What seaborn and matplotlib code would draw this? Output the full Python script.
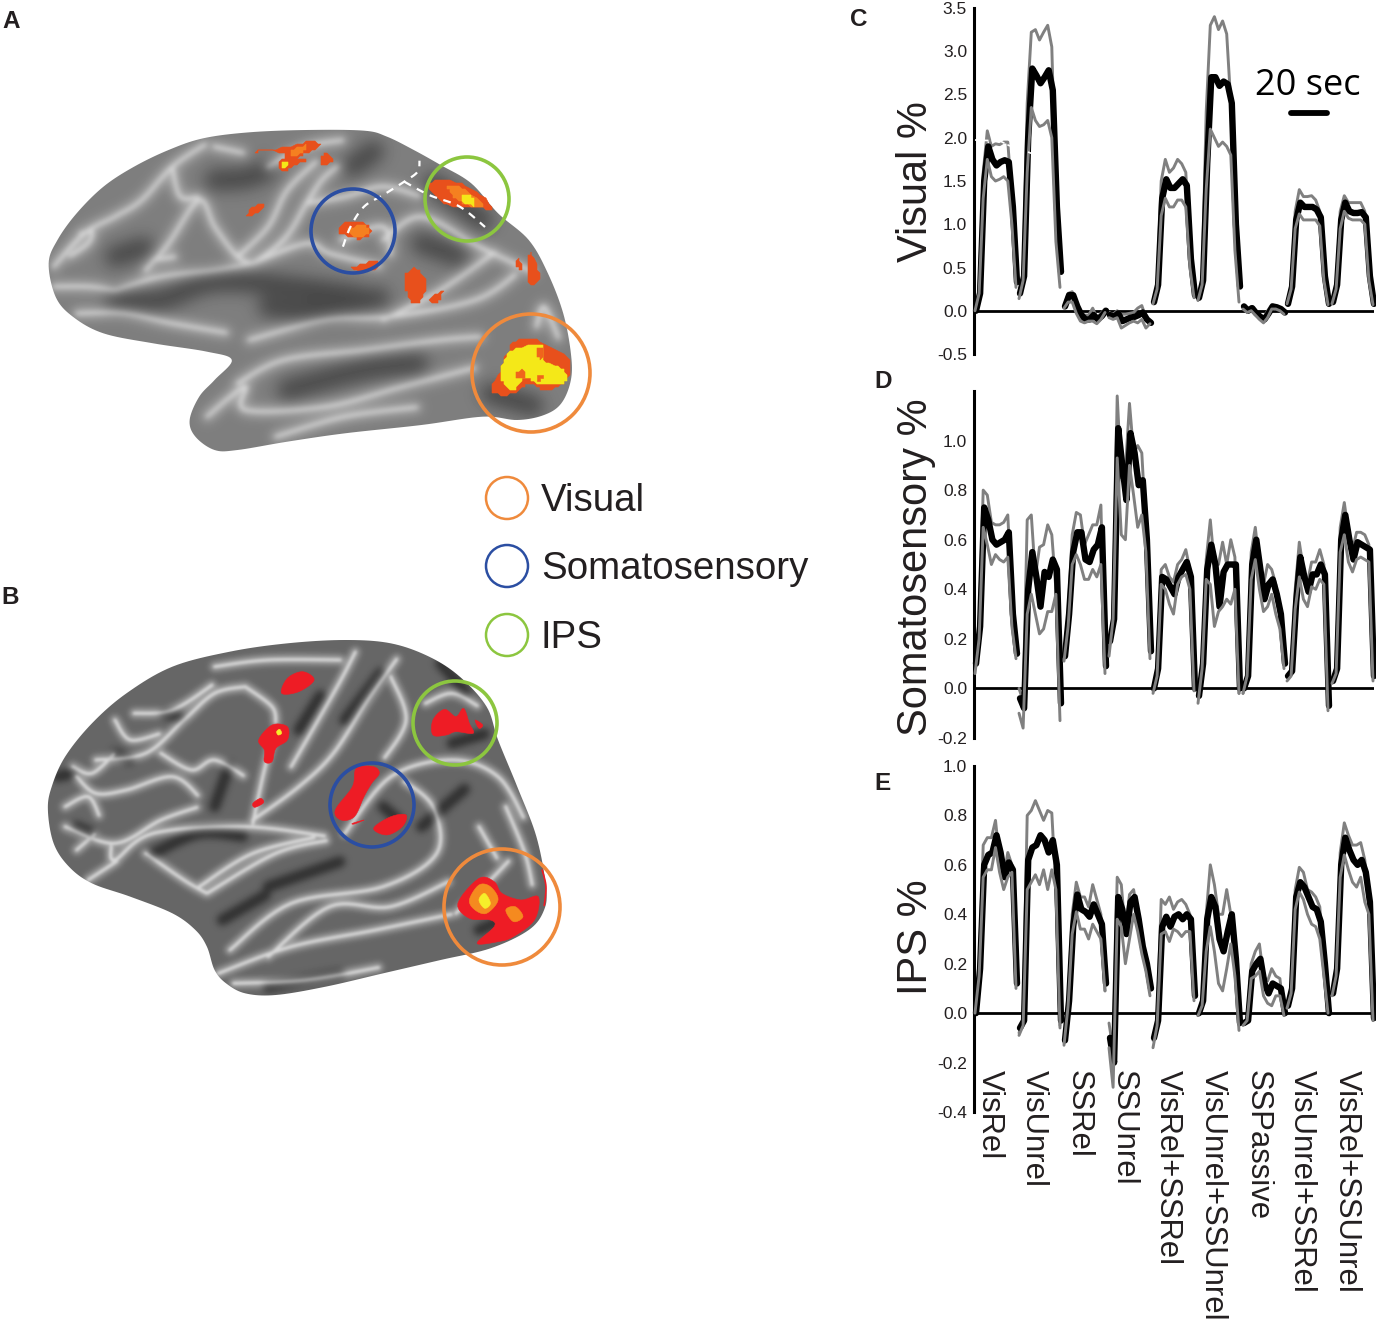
import numpy as np
import pandas as pd
import matplotlib
matplotlib.use('Agg')
import matplotlib.pyplot as plt
import seaborn as sns
from matplotlib.patches import Circle, Polygon

# ── Data ──────────────────────────────────────────────────────────────────────

conditions = ['VisRel', 'VisUnrel', 'SSRel', 'SSUnrel', 'VisRel+SSRel',
              'VisUnrel+SSUnrel', 'SSPassive', 'VisUnrel+SSRel', 'VisRel+SSUnrel']
block_start = [0.5, 22.5, 45, 67.5, 89.5, 112, 134.5, 156.5, 179]
sample_step = 2.05
mean_lag = 0.5

visual_mean = [
    [0.0, 0.2, 1.5, 1.9, 1.75, 1.68, 1.72, 1.74, 1.72, 1.2, 0.33],
    [0.2, 0.4, 2.0, 2.8, 2.72, 2.63, 2.7, 2.78, 2.55, 1.2, 0.45],
    [0.05, 0.18, 0.18, 0.05, -0.05, -0.1, -0.1, -0.05, -0.1, -0.06, 0.0],
    [-0.05, -0.07, -0.03, -0.12, -0.1, -0.08, -0.07, -0.05, -0.02, -0.1, -0.14],
    [0.1, 0.3, 1.3, 1.52, 1.42, 1.42, 1.47, 1.52, 1.45, 0.6, 0.18],
    [0.15, 0.35, 1.7, 2.7, 2.7, 2.6, 2.65, 2.62, 2.4, 1.0, 0.28],
    [0.05, 0.0, 0.03, -0.03, -0.07, -0.1, -0.03, 0.05, 0.04, 0.02, -0.02],
    [0.08, 0.28, 1.05, 1.25, 1.2, 1.2, 1.2, 1.17, 1.08, 0.4, 0.08],
    [0.1, 0.3, 1.05, 1.25, 1.15, 1.13, 1.13, 1.14, 1.08, 0.4, 0.08],
]
visual_upper = [
    [0.0, 0.25, 1.6, 2.08, 1.9, 1.93, 1.92, 1.95, 1.95, 1.3, 0.33],
    [0.18, 0.4, 2.4, 3.22, 3.25, 3.13, 3.22, 3.3, 3.05, 1.3, 0.45],
    [0.05, 0.2, 0.22, 0.08, -0.02, -0.05, -0.05, 0.03, -0.08, -0.03, 0.02],
    [-0.02, -0.04, 0.0, -0.04, -0.04, -0.03, -0.02, 0.03, 0.06, -0.08, -0.12],
    [0.1, 0.3, 1.5, 1.75, 1.6, 1.65, 1.75, 1.7, 1.6, 0.7, 0.18],
    [0.12, 0.33, 2.3, 3.3, 3.4, 3.25, 3.35, 3.2, 2.4, 1.1, 0.28],
    [0.06, 0.02, 0.05, 0.0, -0.05, -0.08, 0.0, 0.07, 0.05, 0.03, -0.02],
    [0.08, 0.28, 1.15, 1.4, 1.32, 1.32, 1.33, 1.28, 1.15, 0.45, 0.08],
    [0.1, 0.28, 1.15, 1.33, 1.25, 1.25, 1.25, 1.25, 1.15, 0.45, 0.08],
]
visual_lower = [
    [0.0, 0.2, 1.3, 1.75, 1.55, 1.5, 1.52, 1.55, 1.5, 1.0, 0.27],
    [0.14, 0.35, 1.6, 2.35, 2.2, 2.13, 2.15, 2.2, 2.0, 0.8, 0.27],
    [0.03, 0.1, 0.1, -0.03, -0.12, -0.14, -0.12, -0.12, -0.15, -0.1, -0.02],
    [-0.08, -0.1, -0.08, -0.2, -0.17, -0.14, -0.12, -0.14, -0.1, -0.2, -0.15],
    [0.08, 0.25, 1.1, 1.3, 1.2, 1.2, 1.28, 1.28, 1.2, 0.5, 0.15],
    [0.12, 0.3, 1.4, 2.1, 2.0, 1.9, 1.95, 1.9, 1.8, 0.7, 0.1],
    [0.02, -0.02, 0.0, -0.05, -0.1, -0.14, -0.08, 0.02, 0.02, 0.0, -0.04],
    [0.08, 0.25, 0.95, 1.12, 1.05, 1.05, 1.05, 1.05, 0.98, 0.35, 0.07],
    [0.08, 0.25, 0.95, 1.15, 1.07, 1.05, 1.05, 1.05, 1.0, 0.35, 0.07],
]

somato_mean = [
    [0.1, 0.25, 0.73, 0.68, 0.6, 0.58, 0.59, 0.6, 0.63, 0.3, 0.14],
    [-0.04, -0.08, 0.4, 0.55, 0.45, 0.33, 0.47, 0.45, 0.52, 0.48, -0.06],
    [0.13, 0.3, 0.55, 0.63, 0.63, 0.52, 0.51, 0.56, 0.58, 0.65, 0.09],
    [0.19, 0.28, 1.05, 0.9, 0.76, 1.03, 0.95, 0.82, 0.84, 0.6, 0.15],
    [0.0, 0.08, 0.45, 0.44, 0.41, 0.38, 0.45, 0.48, 0.51, 0.45, 0.0],
    [-0.03, 0.1, 0.48, 0.58, 0.5, 0.33, 0.47, 0.5, 0.5, 0.5, 0.0],
    [0.0, 0.05, 0.5, 0.6, 0.48, 0.36, 0.42, 0.44, 0.38, 0.3, 0.1],
    [0.05, 0.07, 0.35, 0.53, 0.45, 0.39, 0.46, 0.46, 0.5, 0.46, -0.07],
    [0.03, 0.08, 0.6, 0.7, 0.6, 0.52, 0.59, 0.58, 0.57, 0.56, 0.05],
]
somato_upper = [
    [0.08, 0.25, 0.8, 0.78, 0.67, 0.66, 0.66, 0.67, 0.7, 0.35, 0.14],
    [0.0, -0.05, 0.68, 0.7, 0.45, 0.57, 0.58, 0.66, 0.62, 0.4, -0.06],
    [0.13, 0.3, 0.62, 0.71, 0.7, 0.58, 0.62, 0.66, 0.66, 0.74, 0.09],
    [0.15, 0.3, 1.18, 0.85, 0.88, 1.15, 0.95, 0.98, 0.95, 0.65, 0.15],
    [-0.01, 0.08, 0.48, 0.5, 0.45, 0.43, 0.5, 0.52, 0.56, 0.48, 0.0],
    [-0.03, 0.1, 0.52, 0.68, 0.5, 0.5, 0.59, 0.5, 0.6, 0.53, -0.02],
    [-0.02, 0.05, 0.55, 0.65, 0.5, 0.42, 0.5, 0.48, 0.42, 0.28, 0.1],
    [0.05, 0.07, 0.4, 0.59, 0.48, 0.43, 0.51, 0.51, 0.56, 0.5, -0.07],
    [0.03, 0.08, 0.65, 0.75, 0.63, 0.56, 0.63, 0.63, 0.62, 0.58, 0.05],
]
somato_lower = [
    [0.06, 0.2, 0.65, 0.58, 0.5, 0.54, 0.52, 0.51, 0.53, 0.25, 0.12],
    [-0.1, -0.16, 0.3, 0.38, 0.3, 0.22, 0.24, 0.31, 0.31, 0.38, -0.13],
    [0.11, 0.25, 0.5, 0.54, 0.5, 0.44, 0.44, 0.48, 0.45, 0.5, 0.06],
    [0.13, 0.28, 0.93, 0.62, 0.6, 0.9, 0.78, 0.65, 0.7, 0.55, 0.12],
    [-0.02, 0.05, 0.42, 0.4, 0.34, 0.3, 0.42, 0.45, 0.46, 0.4, -0.01],
    [-0.06, 0.08, 0.44, 0.42, 0.25, 0.31, 0.33, 0.36, 0.34, 0.4, -0.02],
    [-0.02, 0.05, 0.44, 0.52, 0.4, 0.31, 0.33, 0.38, 0.3, 0.24, 0.08],
    [0.03, 0.05, 0.32, 0.45, 0.36, 0.33, 0.41, 0.4, 0.44, 0.42, -0.09],
    [0.02, 0.06, 0.55, 0.62, 0.51, 0.47, 0.52, 0.53, 0.52, 0.51, 0.03],
]

ips_mean = [
    [0.0, 0.18, 0.6, 0.64, 0.65, 0.72, 0.65, 0.55, 0.61, 0.58, 0.12],
    [-0.06, -0.03, 0.62, 0.67, 0.68, 0.72, 0.7, 0.65, 0.7, 0.6, -0.03],
    [-0.11, 0.05, 0.35, 0.48, 0.42, 0.41, 0.39, 0.44, 0.4, 0.36, 0.12],
    [-0.1, -0.2, 0.47, 0.42, 0.32, 0.45, 0.47, 0.38, 0.27, 0.2, 0.1],
    [-0.1, -0.03, 0.35, 0.39, 0.35, 0.39, 0.4, 0.38, 0.4, 0.38, 0.07],
    [0.0, 0.05, 0.38, 0.47, 0.43, 0.3, 0.25, 0.33, 0.4, 0.22, -0.04],
    [-0.04, -0.03, 0.17, 0.2, 0.22, 0.12, 0.08, 0.12, 0.11, 0.1, 0.0],
    [0.03, 0.1, 0.47, 0.53, 0.51, 0.47, 0.43, 0.42, 0.37, 0.2, 0.0],
    [0.08, 0.18, 0.6, 0.71, 0.66, 0.62, 0.6, 0.62, 0.57, 0.45, -0.02],
]
ips_upper = [
    [0.0, 0.18, 0.68, 0.71, 0.71, 0.78, 0.62, 0.55, 0.65, 0.6, 0.12],
    [-0.08, -0.03, 0.8, 0.82, 0.86, 0.82, 0.78, 0.82, 0.81, 0.5, -0.05],
    [-0.12, 0.05, 0.4, 0.53, 0.47, 0.47, 0.43, 0.52, 0.46, 0.4, 0.09],
    [-0.04, -0.15, 0.55, 0.52, 0.32, 0.48, 0.5, 0.4, 0.3, 0.22, 0.1],
    [-0.11, -0.03, 0.46, 0.44, 0.47, 0.42, 0.45, 0.46, 0.44, 0.4, 0.07],
    [-0.01, 0.05, 0.4, 0.6, 0.52, 0.4, 0.4, 0.5, 0.4, 0.25, -0.05],
    [-0.04, -0.03, 0.2, 0.25, 0.28, 0.15, 0.13, 0.18, 0.15, 0.14, -0.01],
    [0.03, 0.1, 0.5, 0.59, 0.57, 0.5, 0.49, 0.47, 0.43, 0.2, 0.0],
    [0.08, 0.16, 0.65, 0.77, 0.72, 0.68, 0.68, 0.69, 0.62, 0.45, -0.03],
]
ips_lower = [
    [0.0, 0.15, 0.55, 0.58, 0.58, 0.67, 0.57, 0.5, 0.55, 0.57, 0.1],
    [-0.09, -0.05, 0.5, 0.53, 0.56, 0.52, 0.58, 0.5, 0.58, 0.5, -0.06],
    [-0.13, 0.03, 0.32, 0.41, 0.34, 0.34, 0.3, 0.36, 0.33, 0.3, 0.09],
    [-0.14, -0.3, 0.38, 0.35, 0.2, 0.3, 0.4, 0.33, 0.24, 0.17, 0.07],
    [-0.14, -0.05, 0.32, 0.33, 0.29, 0.34, 0.33, 0.31, 0.33, 0.33, 0.05],
    [-0.01, 0.03, 0.25, 0.35, 0.25, 0.12, 0.09, 0.18, 0.28, 0.15, -0.07],
    [-0.05, -0.03, 0.14, 0.15, 0.17, 0.07, 0.04, 0.03, 0.07, 0.07, -0.01],
    [0.02, 0.08, 0.42, 0.49, 0.46, 0.4, 0.36, 0.35, 0.3, 0.15, 0.0],
    [0.07, 0.15, 0.55, 0.64, 0.58, 0.53, 0.51, 0.55, 0.45, 0.4, -0.03],
]

legend_names = ['Visual', 'Somatosensory', 'IPS']

# ── Brain sketches, traced in zoomed-crop coordinates ─────────────────────────

brain_a_outline = [(127, 490), (150, 420), (200, 340), (270, 260), (350, 200), (440, 150), (530, 115),
                   (650, 97), (800, 90), (950, 92), (1010, 110), (1080, 150), (1150, 195), (1230, 250),
                   (1300, 340), (1380, 420), (1430, 520), (1470, 640), (1490, 760), (1490, 840),
                   (1465, 910), (1420, 945), (1350, 960), (1260, 950), (1100, 975), (900, 1000),
                   (750, 1025), (620, 1050), (560, 1050), (510, 1010), (495, 960), (520, 890),
                   (560, 840), (605, 780), (540, 755), (400, 730), (270, 700), (190, 650), (145, 590)]
brain_a_light = [
    [(140, 500), (220, 400), (300, 350), (370, 300), (450, 200), (540, 130)],
    [(380, 510), (440, 430), (520, 300), (560, 380), (620, 470), (660, 490)],
    [(620, 470), (700, 380), (750, 270), (830, 180)],
    [(660, 490), (800, 430), (860, 460), (1000, 500)],
    [(300, 570), (420, 530), (560, 510), (660, 490)],
    [(140, 560), (230, 560), (300, 570)],
    [(1000, 420), (1100, 350), (1250, 440), (1400, 520)],
    [(800, 310), (900, 290), (1000, 260), (1100, 290)],
    [(700, 200), (800, 140), (900, 120)],
    [(1000, 660), (1150, 570), (1300, 450)],
    [(650, 720), (850, 660), (1020, 650), (1240, 600), (1350, 520)],
    [(620, 850), (740, 780), (950, 750), (1150, 720), (1260, 710)],
    [(540, 950), (640, 860), (640, 930), (850, 920), (1050, 860), (1250, 800)],
    [(720, 1010), (900, 950), (1100, 920)],
    [(200, 640), (320, 640), (450, 670), (600, 700)],
    [(1400, 680), (1420, 620), (1460, 720)],
    [(890, 420), (1000, 380), (1020, 470)],
    [(210, 400), (240, 395), (230, 430), (180, 470)],
    [(450, 200), (470, 290), (520, 290)],
    [(400, 480), (460, 470)],
    [(560, 140), (640, 160)],
    [(880, 200), (840, 240), (800, 310), (760, 390), (720, 440), (660, 490)],
]
brain_a_dark = [
    [(300, 600), (420, 600), (560, 545), (760, 560), (950, 590)],
    [(560, 240), (640, 235), (700, 210)],
    [(920, 200), (980, 150)],
    [(1130, 250), (1270, 370)],
    [(700, 620), (830, 630), (1000, 590)],
    [(750, 870), (950, 810), (1100, 790)],
    [(300, 470), (380, 440)],
    [(1100, 430), (1200, 470)],
    [(1280, 880), (1400, 920)],
]
brain_a_dash = [
    [(895, 440), (915, 380), (950, 320), (1000, 285), (1055, 245), (1090, 215), (1095, 180)],
    [(1055, 245), (1120, 285), (1200, 320), (1270, 385)],
]
a_red = [
    [(670, 155), (750, 140), (810, 125), (835, 135), (800, 160), (775, 175), (800, 180), (770, 195), (740, 215), (725, 195), (745, 165), (700, 150)],
    [(850, 160), (870, 185), (840, 195), (835, 180)],
    [(645, 350), (660, 320), (690, 310), (675, 335)],
    [(885, 395), (905, 365), (950, 370), (968, 395), (945, 415), (915, 410)],
    [(920, 505), (950, 490), (985, 480), (985, 505), (945, 515)],
    [(1120, 260), (1150, 240), (1230, 265), (1285, 325), (1240, 320), (1170, 315)],
    [(1055, 535), (1080, 505), (1115, 550), (1100, 600), (1075, 610), (1060, 570)],
    [(1120, 600), (1155, 575), (1140, 605)],
    [(1345, 490), (1355, 475), (1360, 510)],
    [(1385, 460), (1410, 530), (1385, 555), (1380, 510)],
    [(1285, 875), (1310, 800), (1340, 730), (1400, 720), (1480, 770), (1490, 810), (1470, 850), (1420, 870), (1380, 850), (1340, 880)],
]
a_orange = [
    [(1170, 260), (1215, 270), (1260, 315), (1220, 315), (1190, 295)],
    [(910, 385), (950, 375), (962, 395), (940, 410), (920, 405)],
    [(760, 150), (800, 135), (790, 155), (765, 170)],
]
a_yellow = [
    [(1310, 800), (1340, 750), (1410, 735), (1420, 780), (1470, 810), (1470, 850), (1400, 850), (1370, 830), (1340, 870), (1310, 840)],
    [(733, 190), (750, 182), (755, 195), (738, 203)],
    [(1205, 290), (1230, 290), (1240, 315), (1215, 312)],
]
a_specks = [
    [(1350, 815), (1368, 812), (1370, 832), (1352, 832)],
    [(1400, 825), (1412, 822), (1412, 838), (1400, 838)],
    [(1400, 745), (1418, 745), (1415, 775), (1402, 770)],
]

brain_b_outline = [(125, 570), (135, 500), (170, 410), (240, 310), (330, 220), (450, 140), (600, 95),
                   (750, 70), (900, 60), (1020, 70), (1120, 110), (1200, 170), (1270, 260), (1300, 360),
                   (1350, 500), (1400, 650), (1425, 800), (1420, 870), (1380, 930), (1280, 985),
                   (1150, 1020), (1000, 1060), (850, 1100), (720, 1125), (640, 1120), (590, 1090),
                   (560, 1050), (540, 980), (510, 930), (450, 880), (340, 830), (240, 790), (180, 740),
                   (140, 670)]
brain_b_light = [
    [(250, 420), (380, 400), (480, 300), (560, 220), (640, 200)],
    [(170, 620), (300, 670), (420, 600), (520, 560)],
    [(290, 680), (300, 720), (400, 640), (640, 620), (860, 650)],
    [(660, 610), (690, 450), (720, 330)],
    [(640, 200), (710, 260), (720, 310)],
    [(660, 600), (780, 500), (870, 400), (960, 240), (1040, 110)],
    [(760, 440), (880, 200), (930, 90)],
    [(520, 800), (660, 700), (830, 650)],
    [(540, 820), (720, 700), (860, 660)],
    [(900, 640), (1020, 470), (1180, 420), (1300, 470), (1370, 600)],
    [(600, 990), (760, 850), (1000, 800), (1140, 700), (1130, 560), (1050, 480)],
    [(570, 1060), (760, 980), (980, 930), (1190, 880)],
    [(610, 1090), (800, 1080), (1000, 1040)],
    [(1190, 880), (1280, 780), (1330, 720)],
    [(200, 470), (250, 520), (330, 510), (450, 470), (520, 530)],
    [(170, 560), (230, 530), (260, 590)],
    [(350, 280), (450, 270), (560, 190)],
    [(380, 700), (480, 780), (540, 820)],
    [(1110, 250), (1180, 220), (1250, 260)],
    [(560, 140), (700, 120), (900, 120)],
    [(1250, 620), (1300, 720)],
    [(230, 780), (310, 720)],
    [(300, 300), (340, 360), (420, 340)],
    [(420, 400), (500, 450), (560, 420), (640, 470)],
    [(190, 440), (240, 460), (300, 400)],
    [(200, 690), (250, 640)],
    [(1020, 170), (1060, 300), (1000, 420)],
    [(700, 1010), (860, 860), (1020, 860), (1180, 780)],
    [(1320, 560), (1370, 700), (1390, 800)],
]
brain_b_dark = [
    [(200, 620), (240, 640)],
    [(430, 280), (470, 290)],
    [(300, 400), (340, 420)],
    [(150, 470), (190, 460)],
    [(400, 700), (520, 640), (640, 650)],
    [(1000, 560), (1040, 600)],
    [(780, 330), (840, 220)],
    [(1150, 130), (1220, 220)],
    [(700, 800), (900, 720)],
    [(700, 1100), (900, 1060)],
    [(1250, 930), (1350, 880)],
    [(580, 900), (700, 820)],
    [(1100, 620), (1220, 500)],
    [(900, 300), (1000, 150)],
    [(560, 560), (600, 430)],
    [(1180, 370), (1270, 340)],
]
b_red = [
    [(735, 220), (750, 175), (790, 155), (820, 180), (780, 215)],
    [(675, 360), (710, 315), (750, 320), (750, 360), (720, 385), (710, 425), (690, 425), (690, 390)],
    [(660, 550), (680, 535), (688, 548), (665, 562)],
    [(875, 570), (920, 500), (930, 445), (975, 440), (990, 460), (970, 490), (950, 530), (925, 590), (890, 600)],
    [(920, 610), (950, 600), (925, 612)],
    [(975, 625), (1020, 590), (1060, 585), (1050, 620), (1010, 645)],
    [(1130, 300), (1160, 268), (1190, 290), (1210, 265), (1225, 310), (1235, 340), (1190, 335), (1165, 345), (1130, 345)],
    [(1240, 300), (1260, 315), (1250, 325)],
    [(1195, 850), (1250, 775), (1290, 785), (1310, 820), (1360, 840), (1405, 830), (1395, 900), (1340, 950), (1300, 965), (1245, 970), (1290, 920), (1280, 900), (1225, 895)],
]
b_orange = [
    [(1225, 840), (1250, 795), (1280, 800), (1300, 840), (1270, 880), (1240, 870)],
    [(1320, 870), (1345, 860), (1365, 890), (1340, 905)],
]
b_yellow = [
    [(1250, 840), (1265, 820), (1280, 850), (1265, 865)],
    [(722, 335), (730, 328), (735, 340), (726, 345)],
]
b_edge = [(1415, 750), (1425, 800), (1420, 860)]

# ── Style ─────────────────────────────────────────────────────────────────────

sns.set_style('white')
plt.rcParams['font.family'] = ['Liberation Sans', 'DejaVu Sans']
plt.rcParams['axes.unicode_minus'] = False

FIG_W, FIG_H = 1376, 1319
ORANGE, BLUE, GREEN = '#ef8a3c', '#2b4ea2', '#8cc63f'
GREY = '#808080'
INK = '#231f20'

fig = plt.figure(figsize=(FIG_W / 100, FIG_H / 100), dpi=100)
canvas = fig.add_axes([0, 0, 1, 1])


def smooth(points, closed=False, n=10):
    # Catmull-Rom through the traced points
    p = np.array(points, dtype=float)
    if closed:
        p = np.vstack([p[-1], p, p[0], p[1]])
    else:
        p = np.vstack([p[0], p, p[-1]])
    t = np.linspace(0, 1, n, endpoint=False)[:, None]
    out = []
    for i in range(1, len(p) - 2):
        a, b, c, d = p[i - 1], p[i], p[i + 1], p[i + 2]
        out.append(0.5 * (2 * b + (c - a) * t + (2 * a - 5 * b + 4 * c - d) * t ** 2
                          + (3 * b - a - 3 * c + d) * t ** 3))
    return np.vstack(out)


def to_figure(points, dy):
    # the crops came back wider than tall, hence two scales
    return np.asarray(points, dtype=float) / [2.61, 3.0] + [0, dy]


def blur(img, sigma):
    r = int(3 * sigma) + 1
    kernel = np.exp(-0.5 * (np.arange(-r, r + 1) / sigma) ** 2)
    kernel /= kernel.sum()
    img = np.apply_along_axis(lambda v: np.convolve(v, kernel, mode='same'), 0, img)
    return np.apply_along_axis(lambda v: np.convolve(v, kernel, mode='same'), 1, img)


def fold_layer(lines, dy, base, color, width, sigma):
    # draw one set of folds on a scratch figure and soften it
    off = plt.figure(figsize=(FIG_W / 100, FIG_H / 100), dpi=100, facecolor=base)
    ax = off.add_axes([0, 0, 1, 1])
    ax.set_xlim(0, FIG_W)
    ax.set_ylim(FIG_H, 0)
    ax.axis('off')
    for line in lines:
        xy = smooth(to_figure(line, dy))
        ax.plot(xy[:, 0], xy[:, 1], color=color, lw=width, solid_capstyle='round')
    off.canvas.draw()
    img = np.asarray(off.canvas.buffer_rgba())[:, :, 0] / 255.0
    plt.close(off)
    return blur(img, sigma)


def shading(light, dark, dy, base, light_col, dark_col, light_w, dark_w, light_s, dark_s):
    grey = int(base[1:3], 16) / 255.0
    img = fold_layer(dark, dy, base, dark_col, dark_w, dark_s)
    # wide faint glow plus a thin bright crest on every ridge
    img = img + fold_layer(light, dy, base, light_col, light_w * 3, light_s * 2) * 0.5 - grey * 0.5
    return img + fold_layer(light, dy, base, light_col, light_w, light_s) * 0.5 - grey * 0.5


def draw_brain(outline, dy, img):
    shape = Polygon(smooth(to_figure(outline, dy), closed=True), closed=True, facecolor='none',
                    edgecolor='none', zorder=1)
    canvas.add_patch(shape)
    im = canvas.imshow(img, cmap='gray', vmin=0, vmax=1, extent=(0, FIG_W, FIG_H, 0),
                       aspect='auto', zorder=1)
    im.set_clip_path(shape)


def draw_blobs(blobs, dy, color, grid=0):
    for blob in blobs:
        xy = smooth(to_figure(blob, dy), closed=True, n=6)
        if grid:
            xy = np.round(xy / grid) * grid  # blocky voxel edge
        canvas.add_patch(Polygon(xy, closed=True, facecolor=color, edgecolor=color, lw=0.4, zorder=3))


# ── Panel A brain ─────────────────────────────────────────────────────────────

dy_a = 100
draw_brain(brain_a_outline, dy_a,
           shading(brain_a_light, brain_a_dark, dy_a, '#7e7e7e', '#e0e0e0', '#484848', 2.6, 15, 2.6, 8))
draw_blobs(a_red, dy_a, '#e8501c', grid=3)
draw_blobs(a_orange, dy_a, '#f58020', grid=3)
draw_blobs(a_yellow, dy_a, '#f4e818', grid=3)
draw_blobs(a_specks, dy_a, '#f0641c', grid=3)
for line in brain_a_dash:
    xy = smooth(to_figure(line, dy_a))
    canvas.plot(xy[:, 0], xy[:, 1], color='white', lw=1.6, dashes=(3.5, 3), zorder=4)

# ── Panel B brain ─────────────────────────────────────────────────────────────

dy_b = 620
draw_brain(brain_b_outline, dy_b,
           shading(brain_b_light, brain_b_dark, dy_b, '#666666', '#dadada', '#303030', 2.4, 8, 1.4, 3.5))
draw_blobs(b_red, dy_b, '#ee1c25')
draw_blobs(b_orange, dy_b, '#f58a1f')
draw_blobs(b_yellow, dy_b, '#f6ee2a')
xy = smooth(to_figure(b_edge, dy_b))
canvas.plot(xy[:, 0], xy[:, 1], color='#ee1c25', lw=1.2, zorder=3)

canvas.set_xlim(0, FIG_W)
canvas.set_ylim(FIG_H, 0)
canvas.axis('off')

# Region circles on the brains and in the legend
for cx, cy, r, col in [(467, 199, 42, GREEN), (353, 231, 42, BLUE), (531, 373, 59, ORANGE),
                       (455, 723, 42, GREEN), (372, 805, 42, BLUE), (502, 907, 58, ORANGE)]:
    canvas.add_patch(Circle((cx, cy), r, fill=False, edgecolor=col, lw=2.6, zorder=5))
for name, cy, col in zip(legend_names, [498, 566, 635], [ORANGE, BLUE, GREEN]):
    canvas.add_patch(Circle((507, cy), 21, fill=False, edgecolor=col, lw=1.8, zorder=5))
    canvas.text(541, cy + 3, name, fontsize=27.7, va='center', ha='left', color=INK)

for letter, x, y in [('A', 2, 21), ('B', 1, 598), ('C', 850, 20), ('D', 874, 382), ('E', 874, 784)]:
    canvas.text(x, y, letter, fontsize=17.5, fontweight='bold', va='center', ha='left', color=INK)


# ── Panels C, D, E ────────────────────────────────────────────────────────────

def long_table(mean, upper, lower):
    rows = []
    for name, series, lag in [('mean', mean, mean_lag), ('upper', upper, 0), ('lower', lower, 0)]:
        for cond, start, values in zip(conditions, block_start, series):
            for k, v in enumerate(values):
                rows.append({'series': name, 'condition': cond,
                             'time': start + lag + k * sample_step, 'value': v})
    return pd.DataFrame(rows)


def draw_panel(box, ylim, ticks, label, mean, upper, lower):
    left, top, right, bottom = box
    ax = fig.add_axes([left / FIG_W, 1 - bottom / FIG_H, (right - left) / FIG_W, (bottom - top) / FIG_H])
    ax.patch.set_alpha(0)
    table = long_table(mean, upper, lower)
    ax.axhline(0, color='black', lw=2, zorder=1)
    # upper band goes under the thick mean, lower band over it
    styles = [('upper', GREY, 2.1, 2), ('mean', 'black', 4.6, 3), ('lower', GREY, 2.1, 4)]
    for name, col, width, order in styles:
        sns.lineplot(data=table[table['series'] == name], x='time', y='value', units='condition',
                     estimator=None, color=col, linewidth=width, ax=ax, zorder=order, clip_on=False)
    ax.set_xlim(0, 200)
    ax.set_ylim(*ylim)
    ax.set_yticks(ticks)
    ax.set_yticklabels([f'{t:.1f}' for t in ticks], fontsize=12.5, color=INK)
    ax.tick_params(axis='y', length=0, pad=5)
    ax.set_xticks([])
    ax.set_xlabel('')
    ax.set_ylabel('')
    sns.despine(ax=ax, bottom=True)
    ax.spines['left'].set_linewidth(2.2)
    ax.spines['left'].set_color('black')
    canvas.text(916, label[1], label[0], rotation=90, fontsize=30, va='center', ha='center', color=INK)
    return ax


ax_c = draw_panel((974, 8, 1374, 354), (-0.5, 3.5), [-0.5, 0, 0.5, 1, 1.5, 2, 2.5, 3, 3.5],
                  ('Visual %', 182), visual_mean, visual_upper, visual_lower)
ax_d = draw_panel((974, 391, 1374, 738), (-0.2, 1.2), [-0.2, 0, 0.2, 0.4, 0.6, 0.8, 1.0],
                  ('Somatosensory %', 567), somato_mean, somato_upper, somato_lower)
ax_e = draw_panel((974, 766, 1374, 1112), (-0.4, 1.0), [-0.4, -0.2, 0, 0.2, 0.4, 0.6, 0.8, 1.0],
                  ('IPS %', 937), ips_mean, ips_upper, ips_lower)

# Condition names hang from the bottom axis of panel E
ax_e.set_xticks([s + 7.5 for s in block_start])
ax_e.set_xticklabels(conditions, rotation=270, fontsize=22.3, color=INK, ha='center', va='top')
ax_e.tick_params(axis='x', length=0, pad=-30)

# 20 second scale bar
ax_c.plot([158.5, 176.5], [2.29, 2.29], color='black', lw=4.2, solid_capstyle='round', clip_on=False)
ax_c.text(167, 2.6, '20 sec', fontsize=26, ha='center', va='center', family='Open Sans', color='black')

# White dashes left over on panel C
canvas.plot([975, 1000, 1010], [140, 141, 146], color='white', lw=1.2, dashes=(3, 2), zorder=10)
canvas.plot([1028, 1033, 1053], [152, 154, 160], color='white', lw=1.2, dashes=(3, 6), zorder=10)
canvas.set_zorder(ax_e.get_zorder() + 1)
canvas.patch.set_alpha(0)

fig.savefig('out.png', dpi=100)
